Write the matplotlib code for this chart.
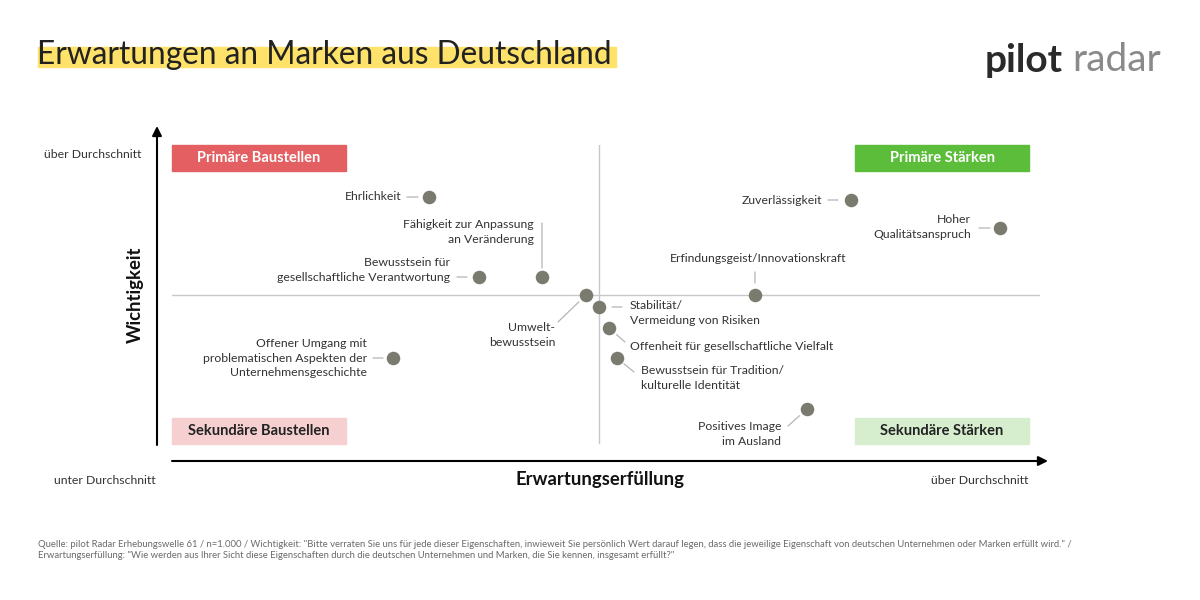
import matplotlib
matplotlib.use("Agg")
import matplotlib.pyplot as plt
from matplotlib.patches import Rectangle

plt.rcParams['font.family'] = ['Lato', 'DejaVu Sans']

# Abweichung vom Durchschnitt (Erwartungserfüllung, Wichtigkeit)
labels = [
    "Ehrlichkeit",
    "Fähigkeit zur Anpassung\nan Veränderung",
    "Bewusstsein für\ngesellschaftliche Verantwortung",
    "Umwelt-\nbewusstsein",
    "Stabilität/\nVermeidung von Risiken",
    "Offenheit für gesellschaftliche Vielfalt",
    "Bewusstsein für Tradition/\nkulturelle Identität",
    "Offener Umgang mit\nproblematischen Aspekten der\nUnternehmensgeschichte",
    "Positives Image\nim Ausland",
    "Erfindungsgeist/Innovationskraft",
    "Zuverlässigkeit",
    "Hoher\nQualitätsanspruch",
]
erfuellung = [-17.0, -5.7, -12.0, -1.3, 0.0, 1.0, 1.8, -20.6, 20.8, 15.6, 25.2, 40.1]
wichtigkeit = [9.8, 1.8, 1.8, 0.0, -1.2, -3.3, -6.3, -6.3, -11.4, 0.0, 9.5, 6.7]

# text placement (offset pixels), alignment, connector end (offset pixels), gap
layout = [
    ((-27, 0), 'right', (-22, 0), 11),
    ((-8, 45), 'right', (0, 54), 9),
    ((-29, 7), 'right', (-22, 0), 12),
    ((-31, -40), 'right', (-28, -27), 10),
    ((31, -6), 'left', (23, 0), 13),
    ((21, -19), 'left', (16, -14), 10),
    ((24, -20), 'left', (17, -14), 9),
    ((-26, 0), 'right', (-20, 0), 10),
    ((-26, -25), 'right', (-19, -17), 10),
    ((3, 36), 'center', (0, 23), 12),
    ((-29, 0), 'right', (-23, 0), 13),
    ((-29, 1), 'right', (-21, 0), 10),
]

dot_color = '#7a7a6e'
text_color = '#333333'
line_color = '#b5b5b5'

fig = plt.figure(figsize=(12, 6), dpi=100)
fig.patch.set_facecolor('white')

# background overlay in pixel coordinates
bg = fig.add_axes([0, 0, 1, 1])
bg.set_xlim(0, 1200)
bg.set_ylim(600, 0)
bg.axis('off')

# title with highlight
bg.add_patch(Rectangle((38, 47), 578, 20, color='#ffe26a', zorder=1))
bg.text(37, 55, "Erwartungen an Marken aus Deutschland", fontsize=22.8,
        color='#222222', va='center', ha='left', zorder=2)

# logo
bg.text(985, 60, "pilot", fontsize=28, fontweight='bold', color='#2a2a2a',
        va='center', ha='left')
bg.text(1161, 60, "radar", fontsize=28, color='#8a8a8a', va='center', ha='right')

# axis arrows
bg.annotate('', xy=(157, 126), xytext=(157, 445),
            arrowprops=dict(arrowstyle='-|>', color='black', lw=1.5,
                            mutation_scale=14, shrinkA=0, shrinkB=0))
bg.annotate('', xy=(1048, 461), xytext=(172, 461),
            arrowprops=dict(arrowstyle='-|>', color='black', lw=1.5,
                            mutation_scale=14, shrinkA=0, shrinkB=0))

bg.text(141, 155, "über Durchschnitt", fontsize=8.8, color='#333333', ha='right', va='center')
bg.text(156, 480, "unter Durchschnitt", fontsize=8.8, color='#333333', ha='right', va='center')
bg.text(1028, 480, "über Durchschnitt", fontsize=8.8, color='#333333', ha='right', va='center')
bg.text(135, 295, "Wichtigkeit", fontsize=13.3, fontweight='bold', color='#111111',
        rotation=90, ha='center', va='center')
bg.text(600, 479, "Erwartungserfüllung", fontsize=13.3, fontweight='bold', color='#111111',
        ha='center', va='center')

# quadrant boxes
boxes = [
    ((172, 145), "Primäre Baustellen", '#e35f61', 'white'),
    ((855, 145), "Primäre Stärken", '#5bbd3a', 'white'),
    ((172, 418), "Sekundäre Baustellen", '#f6d0d0', '#222222'),
    ((855, 418), "Sekundäre Stärken", '#d7eece', '#222222'),
]
for (bx, by), txt, fc, tc in boxes:
    bg.add_patch(Rectangle((bx, by), 174, 26, color=fc, zorder=1))
    bg.text(bx + 87, by + 13, txt, fontsize=10.5, fontweight='bold', color=tc,
            ha='center', va='center', zorder=2)

# footer
footer = ('Quelle: pilot Radar Erhebungswelle 61 / n=1.000 / Wichtigkeit: "Bitte verraten Sie uns für jede dieser '
          'Eigenschaften, inwieweit Sie persönlich Wert darauf legen, dass die jeweilige Eigenschaft von deutschen '
          'Unternehmen oder Marken erfüllt wird." /\nErwartungserfüllung: "Wie werden aus Ihrer Sicht diese '
          'Eigenschaften durch die deutschen Unternehmen und Marken, die Sie kennen, insgesamt erfüllt?"')
bg.text(38, 550, footer, fontsize=6.88, color='#6a6a6a', ha='left', va='center', linespacing=1.4)

# data axes
ax = fig.add_axes([172 / 1200, 155 / 600, 868 / 1200, 300 / 600])
ax.set_xlim(-42.7, 44.1)
ax.set_ylim(-15, 15)
ax.axis('off')
ax.patch.set_alpha(0)

ax.axvline(0, ymin=0.007, ymax=1, color='#c8c8c8', lw=1, zorder=1)
ax.axhline(0, color='#c8c8c8', lw=1, zorder=1)

ax.scatter(erfuellung, wichtigkeit, s=95, color=dot_color, zorder=3, linewidths=0)

for lab, x, y, (toff, ha, cend, gap) in zip(labels, erfuellung, wichtigkeit, layout):
    ax.annotate(lab, xy=(x, y), xytext=toff, textcoords='offset pixels',
                ha=ha, va='center', multialignment=ha, fontsize=8.8,
                color=text_color, linespacing=1.42, zorder=4)
    ax.annotate('', xy=(x, y), xytext=cend, textcoords='offset pixels',
                arrowprops=dict(arrowstyle='-', color=line_color, lw=0.9,
                                shrinkA=0, shrinkB=gap * 0.72), zorder=2)

fig.savefig('out.png', dpi=100, facecolor='white')
